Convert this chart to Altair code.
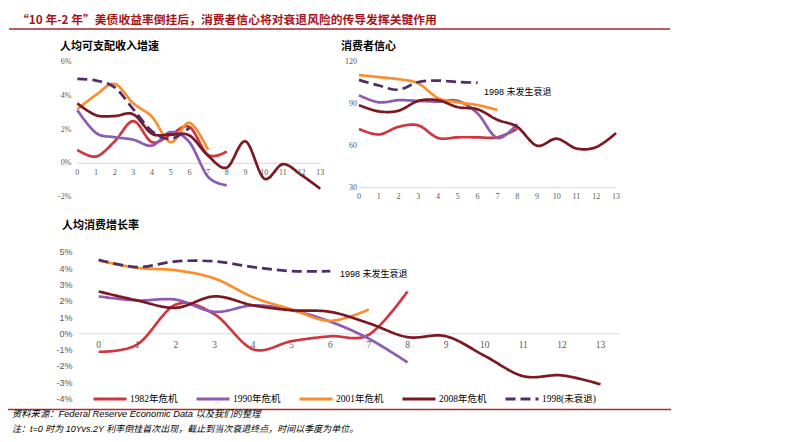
import altair as alt
import pandas as pd

SERIES = ["1982年危机", "1990年危机", "2001年危机", "2008年危机", "1998(未衰退)"]
COLORS = ["#d0363e", "#8c5bb2", "#fb8e2b", "#7c1821", "#4f2d68"]
DASHES = [[1, 0], [1, 0], [1, 0], [1, 0], [10, 5]]

# 人均可支配收入增速 (%)
inc_1982 = [0.8, 0.4, 1.3, 2.5, 1.25, 1.7, 2.15, 0.5, 0.7]
inc_1990 = [3.15, 1.8, 1.55, 1.4, 1.05, 1.85, 1.25, -0.8, -1.3]
inc_2001 = [3.2, 4.05, 4.7, 3.55, 2.75, 1.25, 2.4, 0.8]
inc_2008 = [3.55, 2.85, 2.8, 2.9, 1.75, 1.7, 1.65, 0.45, -0.25, 1.3, -0.9, -0.05, -0.7, -1.5]
inc_1998 = [5.0, 4.9, 4.5, 3.2, 1.9, 1.45, 2.1]

# 消费者信心
conf_1982 = [72, 68, 73.5, 74.5, 65.5, 66, 66, 66, 72]
conf_1990 = [96, 91, 92.5, 92, 91.5, 92, 83, 65.5, 75.5]
conf_2001 = [110.5, 109, 107.5, 104.5, 94, 91, 89, 85.5]
conf_2008 = [89, 84.5, 85, 92, 92.5, 87.5, 86, 78.5, 73.5, 60, 65, 58, 59, 69]
conf_1998 = [107, 103, 100, 105.5, 106.5, 105.5, 105]

# 人均消费增长率 (%)
cons_1982 = [-1.1, -0.65, 1.8, 1.2, -0.95, -0.45, -0.15, -0.05, 2.6]
cons_1990 = [2.3, 2.05, 2.1, 1.35, 1.75, 1.45, 0.75, -0.3, -1.75]
cons_2001 = [4.5, 4.05, 3.9, 3.4, 2.25, 1.5, 0.8, 1.5]
cons_2008 = [2.6, 2.05, 1.6, 2.3, 1.75, 1.45, 1.35, 0.65, -0.2, -0.15, -1.35, -2.6, -2.55, -3.1]
cons_1998 = [4.55, 4.1, 4.45, 4.45, 4.1, 3.85, 3.85]

x_ticks = list(range(14))
inc_ticks = [6, 4, 2, 0, -2]
conf_ticks = [120, 90, 60, 30]
cons_ticks = [5, 4, 3, 2, 1, 0, -1, -2, -3, -4]

MAIN_TITLE = "“10 年-2 年”美债收益率倒挂后，消费者信心将对衰退风险的传导发挥关键作用"
NOTE1 = "资料来源：Federal Reserve Economic Data 以及我们的整理"
NOTE2 = "注：t=0 时为 10Yvs.2Y 利率倒挂首次出现，截止到当次衰退终点，时间以季度为单位。"
ANNOT = "1998 未发生衰退"

SERIF = "Liberation Serif, Noto Sans CJK SC"
SANS = "Liberation Sans, Noto Sans CJK SC"
CJK = "Noto Sans CJK SC"
TICK_COLOR = "#595959"

color_scale = alt.Scale(domain=SERIES, range=COLORS)
dash_scale = alt.Scale(domain=SERIES, range=DASHES)
legend = alt.Legend(
    orient="none", legendX=84, legendY=373, direction="horizontal", title=None,
    symbolType="stroke", symbolSize=1089, symbolStrokeWidth=3, columns=5,
    columnPadding=12, labelOffset=2, labelFont=SERIF, labelFontSize=9.5,
    labelColor="#000000", padding=0, labelLimit=200,
)

ys_ticks_map = {
    "inc": (inc_ticks, [f"{t}%" for t in inc_ticks]),
    "conf": (conf_ticks, [str(t) for t in conf_ticks]),
    "cons": (cons_ticks, [f"{t}%" for t in cons_ticks]),
}


def long_df(arrs):
    rows = []
    for name, arr in zip(SERIES, arrs):
        for q, v in enumerate(arr):
            rows.append({"q": q, "v": v, "series": name})
    return pd.DataFrame(rows)


def panel(arrs, xdom, xrange, ydom, yrange, base, rule_dom, ylab_x, ylab_dx,
          xlab_dy, ylab_font, ylab_size, xlab_size, key, annot=None):
    xs = alt.Scale(domain=xdom, range=xrange, nice=False, zero=False)
    ys = alt.Scale(domain=ydom, range=yrange, nice=False, zero=False)
    df = long_df(arrs)
    lines = alt.Chart(df).mark_line(strokeWidth=2.7, interpolate="cardinal").encode(
        x=alt.X("q:Q", scale=xs, axis=None),
        y=alt.Y("v:Q", scale=ys, axis=None),
        color=alt.Color("series:N", scale=color_scale, legend=legend),
        strokeDash=alt.StrokeDash("series:N", scale=dash_scale, legend=legend),
        detail="series:N",
    )
    base_df = pd.DataFrame({"x0": [rule_dom[0]], "x1": [rule_dom[1]], "yb": [base]})
    rule = alt.Chart(base_df).mark_rule(color="#d9d9d9", strokeWidth=1).encode(
        x=alt.X("x0:Q", scale=xs, axis=None),
        x2="x1:Q",
        y=alt.Y("yb:Q", scale=ys, axis=None),
    )
    xt = pd.DataFrame({"q": x_ticks, "lab": [str(t) for t in x_ticks], "yb": base})
    xlabels = alt.Chart(xt).mark_text(
        font="Liberation Serif", fontSize=xlab_size, color=TICK_COLOR,
        baseline="middle", align="center", dy=xlab_dy,
    ).encode(
        x=alt.X("q:Q", scale=xs, axis=None),
        y=alt.Y("yb:Q", scale=ys, axis=None),
        text="lab:N",
    )
    yt = pd.DataFrame({"v": ys_ticks_map[key][0],
                       "lab": ys_ticks_map[key][1],
                       "xb": ylab_x})
    ylabels = alt.Chart(yt).mark_text(
        font=ylab_font, fontSize=ylab_size, color=TICK_COLOR,
        baseline="middle", align="right", dx=ylab_dx,
    ).encode(
        x=alt.X("xb:Q", scale=xs, axis=None),
        y=alt.Y("v:Q", scale=ys, axis=None),
        text="lab:N",
    )
    layers = [rule, lines, xlabels, ylabels]
    if annot is not None:
        adf = pd.DataFrame({"q": [annot[0]], "v": [annot[1]], "t": [ANNOT]})
        layers.append(
            alt.Chart(adf).mark_text(font=SANS, fontSize=9, color="#000000",
                                     align="left", baseline="middle").encode(
                x=alt.X("q:Q", scale=xs, axis=None),
                y=alt.Y("v:Q", scale=ys, axis=None),
                text="t:N",
            )
        )
    return alt.layer(*layers)


pA = panel([inc_1982, inc_1990, inc_2001, inc_2008, inc_1998],
           [0, 13], [69.3, 312.2], [-2, 6], [189.1, 54.0], 0, [0, 13],
           0, -6, 10, "Liberation Serif", 8, 8, "inc")
pB = panel([conf_1982, conf_1990, conf_2001, conf_2008, conf_1998],
           [0, 13], [351.0, 608.0], [30, 120], [179.7, 53.7], 30, [0, 13],
           0, -2, 9, "Liberation Serif", 8, 8, "conf", annot=(6.32, 98.4))
pC = panel([cons_1982, cons_1990, cons_2001, cons_2008, cons_1998],
           [-0.5, 13.5], [71.4, 611.8], [-4, 5], [391.0, 244.4], 0, [-0.5, 13.5],
           -0.5, -7, 11.5, "Liberation Sans", 9, 9.5, "cons", annot=(6.25, 3.68))

one = pd.DataFrame({"k": [0]})


def deco_text(text, x, y, size, color="#000000", weight="normal", font=CJK, style="normal"):
    return alt.Chart(one).mark_text(
        text=text, font=font, fontSize=size, color=color, fontWeight=weight,
        fontStyle=style, align="left", baseline="middle",
    ).encode(x=alt.value(x), y=alt.value(y))


def deco_rule(x1, x2, y, color, width):
    return alt.Chart(one).mark_rule(color=color, strokeWidth=width).encode(
        x=alt.value(x1), x2=alt.value(x2), y=alt.value(y)
    )


decor = [
    deco_text(MAIN_TITLE, 9, 12, 11.8, color="#a3161d", weight="bold"),
    deco_rule(1, 662, 21, "#a3262b", 1.5),
    deco_text("人均可支配收入增速", 52, 38.7, 11, weight="bold"),
    deco_text("消费者信心", 333, 38.7, 11, weight="bold"),
    deco_text("人均消费增长率", 54, 218, 11, weight="bold"),
    deco_rule(0, 663, 401.5, "#b22a2e", 1.5),
    deco_text(NOTE1, 4, 406, 9.3, font=SANS, style="italic"),
    deco_text(NOTE2, 4, 420.5, 9, font=SANS, style="italic"),
]

chart = alt.layer(pA, pB, pC, *decor).resolve_scale(
    x="independent", y="independent"
).properties(
    width=776, height=426, padding=0,
    autosize=alt.AutoSizeParams(type="none"),
).configure_view(stroke=None)

chart.save("out.html", embed_options={"renderer": "svg", "actions": False})
